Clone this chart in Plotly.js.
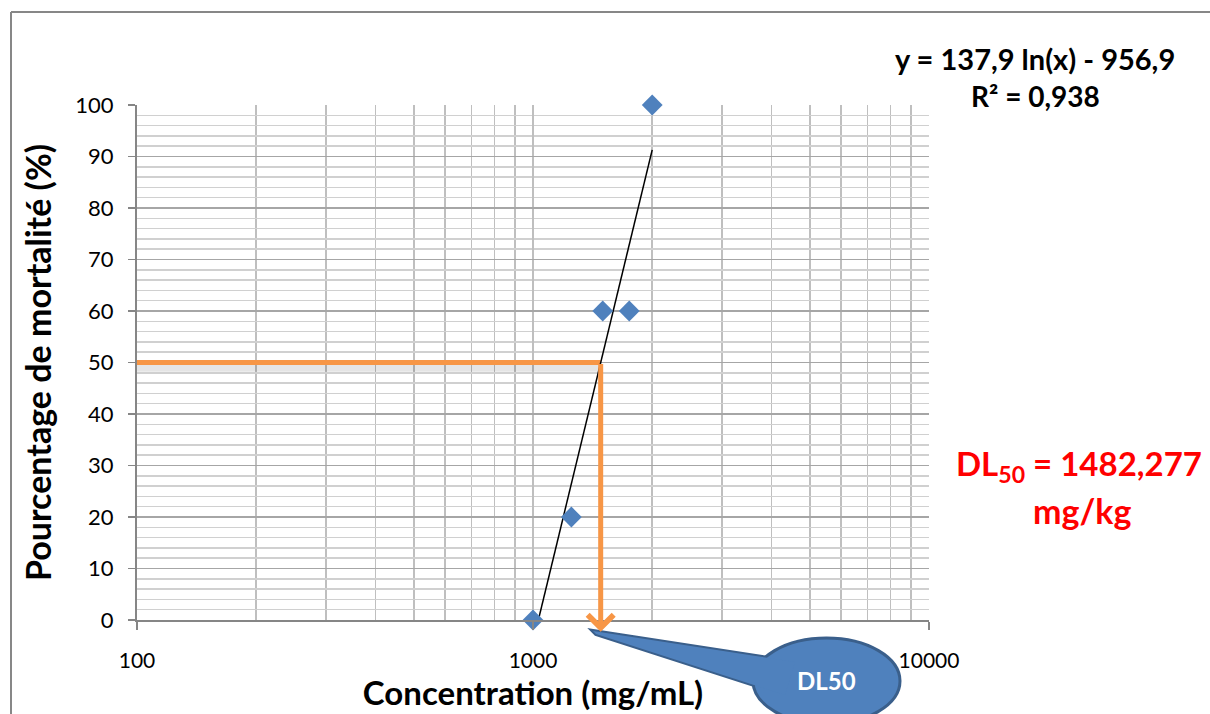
<!DOCTYPE html>
<html>
<head>
<meta charset="utf-8">
<script src="https://cdn.plot.ly/plotly-3.0.1.min.js"></script>
<style>html,body{margin:0;padding:0;background:#fff;}#chart{width:1210px;height:714px;}</style>
</head>
<body>
<div id="chart"></div>
<script>
// Data
const concentration = [1000, 1250, 1500, 1750, 2000];
const mortality = [0, 20, 60, 60, 100];
// Logarithmic trend line y = 137,9 ln(x) - 956,9 (end points as drawn)
const trendX = [1000, 2000];
const trendY = [-4.3, 91.3];
// DL50 guide
const dl50 = 1482.277;
const dl50Level = 50;
const guideX = [100, dl50];
const guideY = [dl50Level, dl50Level];
const arrowTipY = -2.3;
// Ticks
const xTickVals = [100, 1000, 10000];
const xTickText = ['100', '1000', '10000'];
const yTickVals = [0, 10, 20, 30, 40, 50, 60, 70, 80, 90, 100];

const FONT = 'Lato, "Open Sans", "Liberation Sans", sans-serif';
const ORANGE = '#F79646';
const BLUE = '#4F81BD';
const BLUE_DARK = '#3A5F8B';

const traces = [
  { x: guideX, y: guideY.map(v => v - 0.9), mode: 'lines', line: { color: 'rgba(0,0,0,0.10)', width: 9 }, hoverinfo: 'skip', showlegend: false },
  { x: guideX, y: guideY, mode: 'lines', line: { color: ORANGE, width: 5 }, showlegend: false },
  { x: trendX, y: trendY, mode: 'lines', line: { color: '#000000', width: 1.5 }, showlegend: false },
  { x: concentration, y: mortality, mode: 'markers', marker: { symbol: 'diamond', size: 16, color: BLUE }, cliponaxis: false, showlegend: false }
];

const px = v => (v - 137) / 792;
const py = v => (620 - v) / 515;

const tailPath = 'M ' + px(593) + ' ' + py(631) + ' L ' + px(795) + ' ' + py(662) + ' L ' + px(785) + ' ' + py(695) + ' L ' + px(596) + ' ' + py(634) + ' Z';

const layout = {
  width: 1210, height: 714,
  margin: { l: 137, r: 281, t: 105, b: 94 },
  paper_bgcolor: '#ffffff', plot_bgcolor: '#ffffff',
  font: { family: FONT, color: '#000000' },
  showlegend: false,
  xaxis: {
    type: 'log', range: [2, 4],
    tickmode: 'array', tickvals: xTickVals, ticktext: xTickText,
    ticks: 'outside', ticklen: 8, tickcolor: '#868686', tickwidth: 1.5,
    showgrid: true, gridcolor: '#BFBFBF', gridwidth: 1.5,
    minor: { dtick: 'D1', showgrid: true, gridcolor: '#BFBFBF', gridwidth: 1.5, ticks: '' },
    showline: true, linecolor: '#868686', linewidth: 1.5,
    zeroline: false,
    tickfont: { size: 21, color: '#000', family: FONT },
    ticklabelstandoff: 13,
    title: { text: '<b>Concentration (mg/mL)</b>', font: { size: 33, color: '#000', family: FONT }, standoff: 9 }
  },
  yaxis: {
    range: [0, 100],
    tickmode: 'array', tickvals: yTickVals,
    ticks: 'outside', ticklen: 7, tickcolor: '#868686', tickwidth: 1.5,
    showgrid: true, gridcolor: '#A6A6A6', gridwidth: 1.5,
    minor: { dtick: 2, showgrid: true, gridcolor: '#D0D0D0', gridwidth: 1.5, ticks: '' },
    showline: true, linecolor: '#868686', linewidth: 2,
    zeroline: false,
    tickfont: { size: 22, color: '#000', family: FONT },
    ticklabelstandoff: 10,
    title: { text: '<b>Pourcentage de mortalité (%)</b>', font: { size: 34, color: '#000', family: FONT }, standoff: 13 }
  },
  shapes: [
    // outer chart frame (left and top edges)
    { type: 'line', xref: 'paper', yref: 'paper', x0: px(11), x1: px(11), y0: py(720), y1: py(12), line: { color: '#878787', width: 2 }, layer: 'above' },
    { type: 'line', xref: 'paper', yref: 'paper', x0: px(11), x1: px(1215), y0: py(12), y1: py(12), line: { color: '#878787', width: 2 }, layer: 'above' },
    // callout tail (with border), ellipse, tail fill on top to merge
    { type: 'path', xref: 'paper', yref: 'paper', path: tailPath, fillcolor: BLUE, line: { color: BLUE_DARK, width: 4 }, layer: 'above' },
    { type: 'circle', xref: 'paper', yref: 'paper', x0: px(753), x1: px(900), y0: py(724), y1: py(638), fillcolor: BLUE, line: { color: BLUE_DARK, width: 3 }, layer: 'above' },
    { type: 'path', xref: 'paper', yref: 'paper', path: tailPath, fillcolor: BLUE, line: { width: 0 }, layer: 'above' }
  ],
  annotations: [
    { xref: 'x', yref: 'y', axref: 'x', ayref: 'y', x: Math.log10(dl50), y: arrowTipY, ax: Math.log10(dl50), ay: dl50Level,
      text: '', showarrow: true, arrowhead: 4, arrowsize: 1, arrowwidth: 5, arrowcolor: ORANGE, standoff: 0 },
    { xref: 'paper', yref: 'paper', x: px(1035), y: py(58), xanchor: 'center', yanchor: 'middle', showarrow: false,
      text: '<b>y = 137,9 ln(x) - 956,9</b>', font: { size: 29, color: '#000', family: FONT } },
    { xref: 'paper', yref: 'paper', x: px(1035), y: py(96), xanchor: 'center', yanchor: 'middle', showarrow: false,
      text: '<b>R² = 0,938</b>', font: { size: 28, color: '#000', family: FONT } },
    { xref: 'paper', yref: 'paper', x: px(1079), y: py(465), xanchor: 'center', yanchor: 'middle', showarrow: false,
      text: '<b>DL<sub>50</sub> = 1482,277</b>', font: { size: 33, color: '#FF0000', family: FONT } },
    { xref: 'paper', yref: 'paper', x: px(1082), y: py(510), xanchor: 'center', yanchor: 'middle', showarrow: false,
      text: '<b>mg/kg</b>', font: { size: 34, color: '#FF0000', family: FONT } },
    { xref: 'paper', yref: 'paper', x: px(826), y: py(680), xanchor: 'center', yanchor: 'middle', showarrow: false,
      text: '<b>DL50</b>', font: { size: 24, color: '#FFFFFF', family: FONT } }
  ]
};

Plotly.newPlot('chart', traces, layout, { displayModeBar: false, staticPlot: true });
</script>
</body>
</html>
